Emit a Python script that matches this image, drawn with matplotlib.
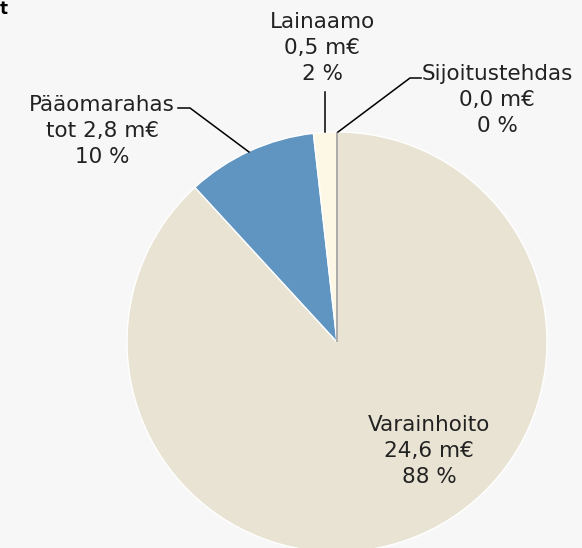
import matplotlib
matplotlib.use("Agg")
import matplotlib.pyplot as plt

# data
names = ["Varainhoito", "Pääomarahas", "Lainaamo", "Sijoitustehdas"]
value_labels = ["24,6 m€", "tot 2,8 m€", "0,5 m€", "0,0 m€"]
values = [24.6, 2.8, 0.5, 0.0]
pct_labels = ["88 %", "10 %", "2 %", "0 %"]
colors = ["#e8e3d3", "#6195c1", "#fdf8e5", "#e8e3d3"]

W, H = 582, 548
fig = plt.figure(figsize=(W / 100, H / 100), dpi=100, facecolor="#f7f7f7")
ax = fig.add_axes([0, 0, 1, 1])
ax.set_facecolor("#f7f7f7")

wedges, _ = ax.pie(values, colors=colors, startangle=90, counterclock=False,
                   center=(337, H - 342), radius=210, frame=True,
                   wedgeprops=dict(edgecolor="white", linewidth=1))
wedges[3].set_edgecolor("#7f7f7f")
wedges[3].set_linewidth(0.9)

ax.set_xlim(0, W)
ax.set_ylim(0, H)
ax.axis("off")

font = dict(family=["DejaVu Sans"], fontsize=15.5, color="#222222",
            ha="center", va="center", linespacing=1.4)

# label positions (pixel coords, y from top)
pos = [(429, 451), (102, 131), (322, 48), (497, 100)]
for n, v, p, (x, y) in zip(names, value_labels, pct_labels, pos):
    ax.text(x, H - y, n + "\n" + v + "\n" + p, **font)

# leader lines
lc = dict(color="black", linewidth=1.1)
ax.plot([325, 325], [H - 92, H - 132], **lc)
ax.plot([338, 410, 421], [H - 132, H - 78, H - 78], **lc)
ax.plot([178, 190, 249], [H - 108, H - 108, H - 152], **lc)

# cut-off title fragment
fig.text(0.0, 1.0, "t", fontsize=12, fontweight="bold", ha="left", va="top")

fig.savefig("out.png", dpi=100, facecolor=fig.get_facecolor())
